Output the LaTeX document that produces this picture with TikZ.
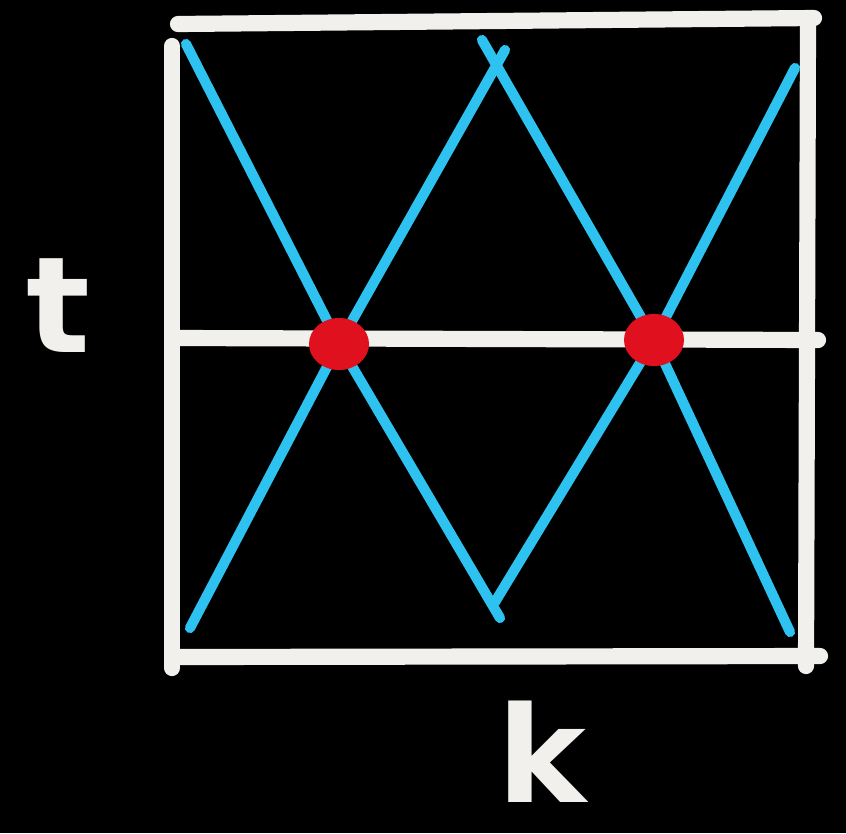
\documentclass[tikz,border=0pt]{standalone}
\usepackage{fontspec}
\setmainfont{DejaVu Sans}
\usepackage{xcolor}
\usetikzlibrary{shapes.geometric}
\definecolor{chalk}{HTML}{F2F0ED}
\definecolor{skyline}{HTML}{2EC2F0}
\definecolor{dotred}{HTML}{E0101E}

\begin{document}
\begin{tikzpicture}[
	x={(0.01cm,0)}, y={(0,-0.01cm)},
	frame/.style={draw=chalk, line width=4.6pt, line cap=round},
	wave/.style={draw=skyline, line width=2.9pt, line cap=round},
	crossing/.style={ellipse, fill=dotred, minimum width=0.6cm, minimum height=0.52cm, inner sep=0pt},
	letter/.style={text=chalk, font=\fontsize{38}{38}\selectfont\bfseries, inner sep=0pt}
	]
	\fill[black] (0,0) rectangle (846,833);
	\useasboundingbox (0,0) rectangle (846,833);
	% frame corners and middle line ends
	\coordinate (tl) at (172,46);
	\coordinate (tr) at (814,18);
	\coordinate (br) at (820,656);
	\coordinate (bl) at (172,668);
	\coordinate (mlft) at (178,338);
	\coordinate (mrgt) at (818,340);
	\draw[frame] (178,24) -- (tr);
	\draw[frame] (tl) -- (bl);
	\draw[frame] (808,24) -- (806,666);
	\draw[frame] (175,657) -- (br);
	\draw[frame] (mlft) -- (mrgt);
	% blue lines
	\coordinate (x1) at (339,344);
	\coordinate (x2) at (654,340);
	\coordinate (a1) at (186,44);
	\coordinate (a2) at (500,618);
	\coordinate (b1) at (505,50);
	\coordinate (b2) at (190,628);
	\coordinate (c1) at (482,40);
	\coordinate (c2) at (790,632);
	\coordinate (d1) at (795,68);
	\coordinate (d2) at (495,602);
	\draw[wave] (a1) -- (x1) -- (a2);
	\draw[wave] (b1) -- (x1) -- (b2);
	\draw[wave] (c1) -- (x2) -- (c2);
	\draw[wave] (d1) -- (x2) -- (d2);
	% the two crossings
	\node[crossing] (p1) at (x1) {};
	\node[crossing] (p2) at (x2) {};
	% axis letters
	\node[letter] (tlab) at (58,306) {t};
	\node[letter] (klab) at (542,752) {k};
\end{tikzpicture}
\end{document}
